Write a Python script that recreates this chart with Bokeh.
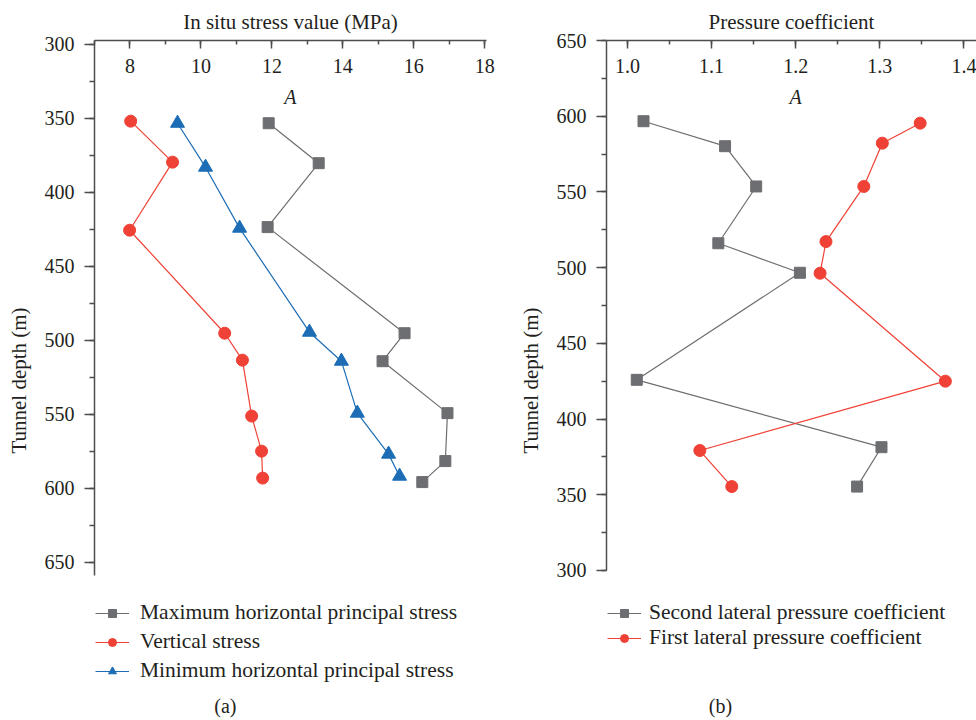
from bokeh.plotting import figure
from bokeh.models import (Range1d, SingleIntervalTicker, Legend, LegendItem, Label,
                          PrintfTickFormatter)
from bokeh.layouts import row
from bokeh.embed import file_html
from bokeh.resources import INLINE

FONT = "Liberation Serif"
TXT = "#231f20"
AXC = "#4d4d4f"
GRAY = "#6d6e71"
RED = "#ef4136"
BLUE = "#1c6db5"

# ---------------- data: panel (a) ----------------
max_h_stress = [11.91, 13.32, 11.88, 15.74, 15.12, 16.95, 16.89, 16.24]
max_h_depth = [353.2, 380.2, 423.4, 495.1, 514.0, 549.1, 581.5, 595.7]

vert_stress = [8.02, 9.20, 7.99, 10.67, 11.17, 11.43, 11.71, 11.74]
vert_depth = [351.8, 379.5, 425.5, 495.1, 513.3, 551.1, 574.8, 593.0]

min_h_stress = [9.34, 10.13, 11.09, 13.06, 13.96, 14.41, 15.29, 15.60]
min_h_depth = [353.2, 382.9, 424.1, 494.4, 514.0, 549.1, 576.8, 591.7]

# ---------------- data: panel (b) ----------------
second_coef = [1.019, 1.116, 1.153, 1.108, 1.205, 1.011, 1.302, 1.273]
second_depth = [596.7, 580.2, 553.6, 516.1, 496.6, 425.9, 381.4, 355.4]

first_coef = [1.348, 1.303, 1.281, 1.236, 1.229, 1.378, 1.086, 1.124]
first_depth = [595.4, 582.2, 553.6, 517.2, 496.3, 425.0, 379.2, 355.4]


def style(p, xlabel, ylabel, x_interval, y_interval, y_bounds):
    p.outline_line_color = None
    p.xgrid.visible = False
    p.ygrid.visible = False
    p.background_fill_color = "white"
    p.border_fill_color = "white"

    xa = p.xaxis[0]
    xa.ticker = SingleIntervalTicker(interval=x_interval, num_minor_ticks=2)
    xa.axis_label = xlabel
    xa.axis_label_text_font = FONT
    xa.axis_label_text_font_size = "21px"
    xa.axis_label_text_font_style = "normal"
    xa.axis_label_text_color = TXT
    xa.axis_label_standoff = 22
    xa.major_label_text_font = FONT
    xa.major_label_text_font_size = "20px"
    xa.major_label_text_color = TXT
    xa.major_label_standoff = -32
    xa.major_tick_in = 8
    xa.major_tick_out = 0
    xa.minor_tick_in = 4
    xa.minor_tick_out = 0
    xa.axis_line_color = AXC
    xa.axis_line_width = 1.5
    xa.major_tick_line_color = AXC
    xa.major_tick_line_width = 1.5
    xa.minor_tick_line_color = AXC
    xa.minor_tick_line_width = 1.5

    ya = p.yaxis[0]
    ya.bounds = y_bounds
    ya.ticker = SingleIntervalTicker(interval=y_interval, num_minor_ticks=2)
    ya.axis_label = ylabel
    ya.axis_label_text_font = FONT
    ya.axis_label_text_font_size = "21px"
    ya.axis_label_text_font_style = "normal"
    ya.axis_label_text_color = TXT
    ya.axis_label_standoff = 11
    ya.major_label_text_font = FONT
    ya.major_label_text_font_size = "20px"
    ya.major_label_text_color = TXT
    ya.major_label_standoff = 10
    ya.major_tick_in = 0
    ya.major_tick_out = 10
    ya.minor_tick_in = 0
    ya.minor_tick_out = 5
    ya.axis_line_color = AXC
    ya.axis_line_width = 1.5
    ya.major_tick_line_color = AXC
    ya.major_tick_line_width = 1.5
    ya.minor_tick_line_color = AXC
    ya.minor_tick_line_width = 1.5


def series(p, xs, ys, color, marker, size):
    lr = p.line(xs, ys, line_color=color, line_width=1.2)
    sr = p.scatter(xs, ys, marker=marker, size=size, fill_color=color,
                   line_color=color, line_width=1)
    return [lr, sr]


def make_legend(items, loc, spacing, standoff):
    lg = Legend(items=items, location=loc, orientation="vertical")
    lg.margin = 0
    lg.padding = 0
    lg.spacing = spacing
    lg.glyph_width = 34
    lg.glyph_height = 20
    lg.label_height = 20
    lg.label_standoff = standoff
    lg.label_text_font = FONT
    lg.label_text_font_size = "21.5px"
    lg.label_text_color = TXT
    lg.background_fill_alpha = 0
    lg.border_line_alpha = 0
    return lg


def text_label(x, y, text, style="normal"):
    return Label(x=x, y=y, text=text, text_font=FONT, text_font_size="20px",
                 text_font_style=style, text_color=TXT,
                 text_align="center", text_baseline="middle")


# ---------------- panel (a) ----------------
p1 = figure(width=500, height=720, output_backend="svg", toolbar_location=None,
            x_axis_location="above",
            x_range=Range1d(7.0, 18.05), y_range=Range1d(756.8, 297.3),
            min_border_left=94, min_border_right=14,
            min_border_top=40, min_border_bottom=0)
style(p1, "In situ stress value (MPa)", "Tunnel depth (m)", 2, 50, (297.3, 658.8))

r_max = series(p1, max_h_stress, max_h_depth, GRAY, "square", 11)
r_vert = series(p1, vert_stress, vert_depth, RED, "circle", 12)
r_min = series(p1, min_h_stress, min_h_depth, BLUE, "triangle", 14)

lg1 = make_legend([
    LegendItem(label="Maximum horizontal principal stress", renderers=r_max),
    LegendItem(label="Vertical stress", renderers=r_vert),
    LegendItem(label="Minimum horizontal principal stress", renderers=r_min),
], (1, 37), 4, 11)
p1.add_layout(lg1)

p1.add_layout(text_label(12.52, 335.8, "A", "italic"))
p1.add_layout(text_label(10.69, 747.3, "(a)"))

# ---------------- panel (b) ----------------
p2 = figure(width=476, height=720, output_backend="svg", toolbar_location=None,
            x_axis_location="above",
            x_range=Range1d(0.975, 1.415), y_range=Range1d(200.9, 650),
            min_border_left=106, min_border_right=0,
            min_border_top=40, min_border_bottom=0)
style(p2, "Pressure coefficient", "Tunnel depth (m)", 0.1, 50, (300, 650))
p2.xaxis[0].formatter = PrintfTickFormatter(format="%.1f")

r_sec = series(p2, second_coef, second_depth, GRAY, "square", 11)
r_first = series(p2, first_coef, first_depth, RED, "circle", 12)

lg2 = make_legend([
    LegendItem(label="Second lateral pressure coefficient", renderers=r_sec),
    LegendItem(label="First lateral pressure coefficient", renderers=r_first),
], (1, 70), 0, 8)
p2.add_layout(lg2)

p2.add_layout(text_label(1.2, 612.4, "A", "italic"))
p2.add_layout(text_label(1.1106, 210.2, "(b)"))

layout = row(p1, p2)
open("out.html", "w").write(file_html(layout, INLINE))
